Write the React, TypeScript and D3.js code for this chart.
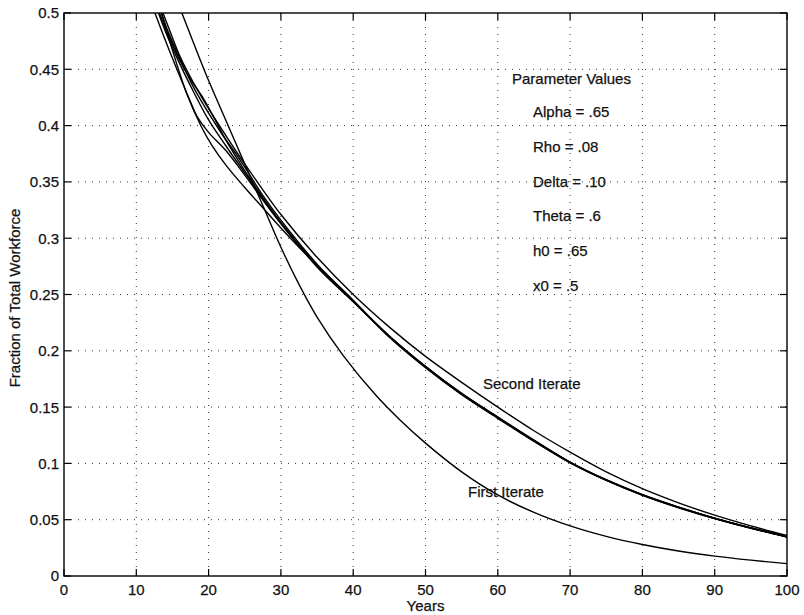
import React, { useRef, useEffect } from "react";
import * as d3 from "d3";

// axis ticks
const xTicks = [0, 10, 20, 30, 40, 50, 60, 70, 80, 90, 100];
const yTicks = [0, 0.05, 0.1, 0.15, 0.2, 0.25, 0.3, 0.35, 0.4, 0.45, 0.5];
const yTickLabels = ["0", "0.05", "0.1", "0.15", "0.2", "0.25", "0.3", "0.35", "0.4", "0.45", "0.5"];

// first iterate (lowest curve at the right)
const firstYears = [15, 16.3, 18, 20, 22.5, 25, 27.5, 30, 32.5, 35, 38.6, 43.2, 46.4, 50, 55, 60, 65, 70, 75, 80, 85, 90, 95, 100];
const firstValues = [0.52, 0.5, 0.472, 0.44, 0.403, 0.366, 0.329, 0.292, 0.259, 0.23, 0.196, 0.16, 0.139, 0.118, 0.0925, 0.072, 0.0565, 0.0445, 0.0352, 0.028, 0.0222, 0.0177, 0.0141, 0.011];

// second iterate (just above the bundle at the right)
const secondYears = [12.5, 14, 16, 18, 20, 22.5, 25, 27.5, 30, 35, 40, 45, 50, 55, 60, 65, 70, 75, 80, 85, 90, 95, 100];
const secondValues = [0.52, 0.495, 0.462, 0.437, 0.415, 0.39, 0.366, 0.343, 0.321, 0.283, 0.25, 0.221, 0.195, 0.172, 0.15, 0.129, 0.11, 0.0925, 0.0776, 0.065, 0.054, 0.0445, 0.036];

// later iterates, the converged bundle
const bundleYears = [12, 14, 16, 18, 20, 22.5, 25, 27.5, 30, 35, 40, 45, 50, 55, 60, 65, 70, 75, 80, 85, 90, 95, 100];
const bundleValues = [0.52, 0.484, 0.455, 0.429, 0.405, 0.381, 0.358, 0.335, 0.313, 0.275, 0.244, 0.213, 0.186, 0.162, 0.141, 0.1205, 0.101, 0.0853, 0.0721, 0.061, 0.0512, 0.0426, 0.0348];

const sagYears = [12, 13.5, 15, 17, 19, 20.5, 22.5, 25, 27.5, 30, 32.5, 35, 40, 45, 50, 55, 60, 65, 70, 75, 80, 85, 90, 95, 100];
const sagValues = [0.53, 0.5, 0.467, 0.428, 0.399, 0.382, 0.364, 0.345, 0.327, 0.309, 0.292, 0.276, 0.245, 0.212, 0.185, 0.161, 0.14, 0.1195, 0.1005, 0.0849, 0.0717, 0.0606, 0.0509, 0.0423, 0.0345];

const wig1Years = [12, 14, 16, 17.5, 19, 20.5, 22.5, 25, 27.5, 30, 35, 40, 45, 50, 55, 60, 65, 70, 75, 80, 85, 90, 95, 100];
const wig1Values = [0.52, 0.487, 0.458, 0.441, 0.427, 0.41, 0.386, 0.36, 0.336, 0.314, 0.276, 0.244, 0.2125, 0.1855, 0.1615, 0.1405, 0.12, 0.1008, 0.0852, 0.0722, 0.0612, 0.0514, 0.0428, 0.035];

const wig2Years = [12, 14, 16, 17.5, 18.5, 20, 22.5, 25, 27.5, 30, 35, 40, 45, 50, 55, 60, 65, 70, 75, 80, 85, 90, 95, 100];
const wig2Values = [0.51, 0.476, 0.444, 0.421, 0.407, 0.394, 0.377, 0.356, 0.334, 0.313, 0.2745, 0.2435, 0.2128, 0.1858, 0.1618, 0.1408, 0.1202, 0.1009, 0.0851, 0.0719, 0.0609, 0.0511, 0.0426, 0.0349];

const wig3Years = [12, 14, 16, 18, 20, 22, 24, 25.5, 27.5, 30, 35, 40, 45, 50, 55, 60, 65, 70, 75, 80, 85, 90, 95, 100];
const wig3Values = [0.53, 0.49, 0.46, 0.433, 0.411, 0.391, 0.373, 0.358, 0.338, 0.316, 0.277, 0.2445, 0.2132, 0.1862, 0.1622, 0.1412, 0.1207, 0.1012, 0.0855, 0.0723, 0.0612, 0.0513, 0.0427, 0.0349];

const paramLines = ["Alpha = .65", "Rho = .08", "Delta = .10", "Theta = .6", "h0 = .65", "x0 = .5"];

const FONT = "'Liberation Sans', Arial, Helvetica, sans-serif";

const App = () => {
  const chartRef = useRef(null);

  useEffect(() => {
    const width = 804;
    const height = 615;
    const left = 64;
    const right = 787;
    const top = 13;
    const bottom = 576;

    const svg = d3.select(chartRef.current).attr("width", width).attr("height", height);
    svg.selectAll("*").remove();

    const x = d3.scaleLinear().domain([0, 100]).range([left, right]);
    const y = d3.scaleLinear().domain([0, 0.5]).range([bottom, top]);

    svg.append("rect").attr("width", width).attr("height", height).attr("fill", "#fff");

    // dotted grid
    const grid = svg.append("g").attr("stroke", "#333").attr("stroke-width", 1).attr("stroke-dasharray", "1,6");
    xTicks.slice(1, -1).forEach((t) => {
      grid.append("line").attr("x1", x(t)).attr("x2", x(t)).attr("y1", top).attr("y2", bottom);
    });
    yTicks.slice(1, -1).forEach((t) => {
      grid.append("line").attr("x1", left).attr("x2", right).attr("y1", y(t)).attr("y2", y(t));
    });

    // inward ticks on all four sides
    const ticks = svg.append("g").attr("stroke", "#000").attr("stroke-width", 1.2);
    const tl = 7;
    xTicks.forEach((t) => {
      ticks.append("line").attr("x1", x(t)).attr("x2", x(t)).attr("y1", bottom).attr("y2", bottom - tl);
      ticks.append("line").attr("x1", x(t)).attr("x2", x(t)).attr("y1", top).attr("y2", top + tl);
    });
    yTicks.forEach((t) => {
      ticks.append("line").attr("x1", left).attr("x2", left + tl).attr("y1", y(t)).attr("y2", y(t));
      ticks.append("line").attr("x1", right).attr("x2", right - tl).attr("y1", y(t)).attr("y2", y(t));
    });

    // curves
    svg.append("clipPath").attr("id", "plot-clip")
      .append("rect").attr("x", left).attr("y", top).attr("width", right - left).attr("height", bottom - top);

    const curves = [
      [firstYears, firstValues],
      [secondYears, secondValues],
      [bundleYears, bundleValues],
      [sagYears, sagValues],
      [wig1Years, wig1Values],
      [wig2Years, wig2Values],
      [wig3Years, wig3Values],
    ];

    const line = d3
      .line()
      .x((d) => x(d[0]))
      .y((d) => y(d[1]))
      .curve(d3.curveCatmullRom.alpha(0.5));

    const lines = svg.append("g").attr("clip-path", "url(#plot-clip)");
    curves.forEach(([yrs, vals]) => {
      lines
        .append("path")
        .datum(yrs.map((yr, i) => [yr, vals[i]]))
        .attr("d", line)
        .attr("fill", "none")
        .attr("stroke", "#000")
        .attr("stroke-width", 1.4);
    });

    // frame
    svg.append("rect")
      .attr("x", left).attr("y", top)
      .attr("width", right - left).attr("height", bottom - top)
      .attr("fill", "none").attr("stroke", "#000").attr("stroke-width", 1.4);

    // tick labels
    const labels = svg.append("g")
      .attr("font-family", FONT)
      .attr("font-size", 15)
      .attr("fill", "#111")
      .attr("stroke", "#111")
      .attr("stroke-width", 0.25);
    xTicks.forEach((t) => {
      labels.append("text").attr("x", x(t)).attr("y", 595).attr("text-anchor", "middle").text(t);
    });
    yTicks.forEach((t, i) => {
      labels.append("text").attr("x", left - 5).attr("y", y(t) + 5.4).attr("text-anchor", "end").text(yTickLabels[i]);
    });

    // axis titles
    labels.append("text").attr("x", (left + right) / 2).attr("y", 611).attr("text-anchor", "middle").text("Years");
    labels.append("text")
      .attr("transform", "translate(20,298) rotate(-90)")
      .attr("text-anchor", "middle")
      .text("Fraction of Total Workforce");

    // annotations
    labels.append("text").attr("x", 512).attr("y", 84).text("Parameter Values");
    paramLines.forEach((p, i) => {
      labels.append("text").attr("x", 533).attr("y", 117 + i * 34.8).text(p);
    });
    labels.append("text").attr("x", 483).attr("y", 389).text("Second Iterate");
    labels.append("text").attr("x", 468).attr("y", 497).text("First Iterate");
  }, []);

  return (
    <div>
      <svg ref={chartRef} style={{ position: "absolute", left: 0, top: 0 }}></svg>
    </div>
  );
};

export default App;
